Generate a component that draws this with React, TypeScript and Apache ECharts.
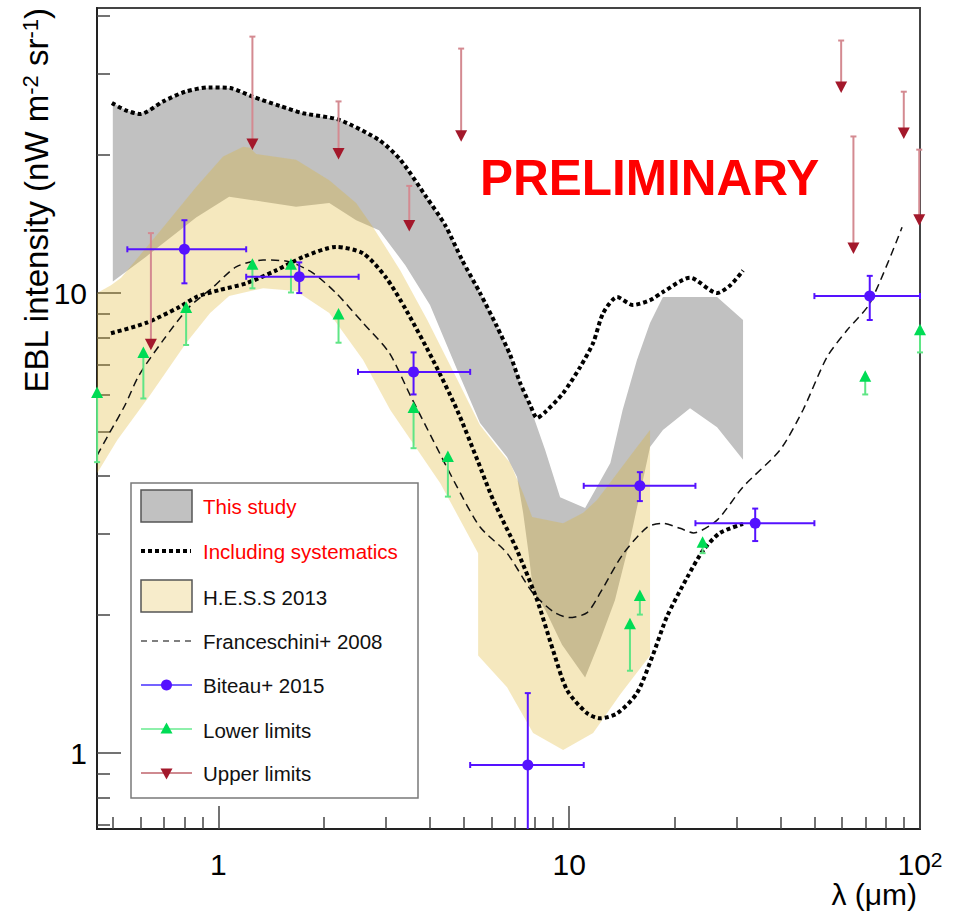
import React, { useEffect, useRef } from 'react';
import * as echarts from 'echarts';

const FONT = '"Liberation Sans", Arial, Helvetica, sans-serif';

// ---- axes ----
const X_MIN = 0.4507;
const X_MAX = 100;
const Y_MIN = 0.6838;
const Y_MAX = 41.66;
const xMajorTicks = [1, 10, 100];
const xMinorTicks = [0.5, 0.6, 0.7, 0.8, 0.9, 2, 3, 4, 5, 6, 7, 8, 9, 20, 30, 40, 50, 60, 70, 80, 90];
const yMajorTicks = [1, 10];
const yMinorTicks = [0.7, 0.8, 0.9, 2, 3, 4, 5, 6, 7, 8, 9, 20, 30, 40];

// ---- This study (band) ----
const thisStudyUpper: number[][] = [
  [0.5, 25.9], [0.542, 25.0], [0.598, 24.5], [0.696, 26.1], [0.804, 27.4], [0.941, 28.0], [1.08, 27.9],
  [1.256, 26.7], [1.5, 25.5], [1.744, 24.6], [2.208, 23.8], [2.872, 21.5], [3.3, 19.5], [3.909, 16.2],
  [4.43, 14.05], [4.95, 11.8], [5.57, 10.0], [6.23, 8.44], [6.79, 7.33], [7.25, 6.37], [7.74, 5.65],
  [8.54, 4.56], [9.42, 3.6], [11.1, 3.41], [13.1, 4.27], [14.2, 5.57], [15.6, 7.15], [17.0, 8.61],
  [18.5, 9.8], [26.4, 9.8], [31.3, 8.74],
];
const thisStudyLower: number[][] = [
  [0.5, 10.6], [0.622, 12.0], [0.864, 14.6], [1.073, 16.2], [1.341, 15.8], [1.665, 15.4], [2.07, 15.7],
  [2.47, 14.4], [2.87, 13.7], [3.41, 11.5], [4.01, 9.42], [4.73, 6.98], [5.57, 5.22], [6.65, 4.4],
  [7.1, 3.98], [7.39, 3.33], [7.64, 2.76], [7.89, 2.26], [8.54, 2.05], [9.54, 1.72], [11.1, 1.46],
  [12.25, 1.76], [13.5, 2.15], [14.9, 2.9], [17.0, 4.63], [18.5, 5.04], [22.1, 5.62], [26.4, 5.11],
  [31.3, 4.34],
];

// ---- Including systematics (dotted envelope) ----
const systUpper: number[][] = [
  [0.497, 25.9], [0.542, 25.0], [0.598, 24.5], [0.696, 26.1], [0.804, 27.4], [0.941, 28.0], [1.08, 27.9],
  [1.256, 26.7], [1.5, 25.5], [1.744, 24.6], [2.208, 23.8], [2.872, 21.5], [3.3, 19.5], [3.909, 16.2],
  [4.43, 14.05], [4.95, 11.8], [5.57, 10.0], [6.23, 8.44], [6.79, 7.33], [7.25, 6.37], [7.74, 5.71],
  [8.1, 5.35], [8.56, 5.52], [9.61, 6.06], [10.74, 6.9], [11.7, 7.79], [12.5, 9.05], [13.7, 9.8],
  [15.2, 9.42], [17.0, 9.65], [18.5, 10.05], [22.1, 10.8], [26.4, 10.0], [28.8, 10.4], [31.3, 11.2],
];
const systLower: number[][] = [
  [0.494, 8.18], [0.622, 8.61], [0.773, 9.32], [0.864, 9.8], [1.005, 10.15], [1.2, 10.5], [1.46, 11.2],
  [1.744, 11.98], [2.165, 12.6], [2.585, 12.2], [3.007, 10.8], [3.43, 9.18], [4.09, 7.15], [4.79, 5.57],
  [5.47, 4.34], [6.07, 3.55], [7.1, 2.76], [8.1, 2.15], [9.0, 1.67], [9.86, 1.37], [11.25, 1.22],
  [12.25, 1.19], [13.7, 1.22], [15.6, 1.35], [17.3, 1.63], [19.0, 1.98], [21.7, 2.41], [24.1, 2.76],
  [26.9, 3.01], [31.3, 3.15],
];

// ---- H.E.S.S 2013 (band) ----
const hessUpper: number[][] = [
  [0.451, 10.0], [0.494, 10.4], [0.528, 10.8], [0.696, 13.9], [0.864, 17.0], [1.031, 19.8], [1.176, 20.8],
  [1.231, 20.7], [1.281, 20.05], [1.665, 19.5], [2.07, 17.6], [2.47, 15.7], [2.76, 13.9], [3.3, 11.2],
  [3.94, 8.74], [4.73, 6.63], [5.57, 5.16], [6.23, 4.63], [6.79, 4.27], [7.39, 3.67], [7.84, 3.26],
  [9.61, 3.16], [10.96, 3.33], [12.0, 3.55], [13.7, 4.06], [15.6, 4.63], [17.0, 5.04],
];
const hessLower: number[][] = [
  [0.451, 4.06], [0.515, 4.79], [0.639, 6.0], [0.809, 7.79], [0.947, 9.05], [1.073, 9.85], [1.341, 10.25],
  [1.665, 10.1], [2.07, 9.05], [2.585, 7.15], [3.09, 5.57], [4.29, 3.86], [5.5, 2.72], [5.5, 1.63],
  [6.65, 1.39], [7.89, 1.105], [9.61, 1.015], [11.7, 1.105], [13.97, 1.34], [17.0, 1.63],
];

// ---- Franceschini+ 2008 ----
const franceschini: number[][] = [
  [0.451, 4.44], [0.491, 4.99], [0.542, 5.71], [0.594, 6.63], [0.696, 7.9], [0.825, 9.32], [0.966, 10.3],
  [1.123, 11.4], [1.341, 11.8], [1.59, 11.7], [1.862, 11.05], [2.165, 10.0], [2.585, 8.61], [3.07, 7.41],
  [3.52, 6.0], [4.09, 4.79], [4.79, 3.79], [5.57, 3.1], [6.65, 2.72], [7.84, 2.24], [9.0, 2.03],
  [10.0, 1.97], [11.25, 2.02], [12.3, 2.24], [14.2, 2.7], [16.7, 3.1], [18.5, 3.16], [20.7, 3.08],
  [22.6, 3.01], [26.4, 3.21], [31.3, 3.79], [39.9, 4.56], [46.4, 5.57], [54.3, 7.26], [62.0, 8.31],
  [72.0, 9.51], [88.9, 13.9],
];

// ---- Biteau+ 2015: [x, y, xLow, xHigh, yLow, yHigh] ----
const biteau: number[][] = [
  [0.8, 12.45, 0.55, 1.2, 10.5, 14.4],
  [1.7, 10.85, 1.2, 2.51, 10.0, 11.66],
  [3.6, 6.74, 2.5, 5.22, 6.02, 7.43],
  [7.62, 0.942, 5.22, 11.0, 0.5, 1.35],
  [15.9, 3.81, 11.0, 22.9, 3.53, 4.08],
  [33.9, 3.16, 22.9, 50.0, 2.89, 3.4],
  [71.9, 9.85, 50.0, 100, 8.74, 10.9],
];

// ---- Lower limits: [x, y, yLow] ----
const lowerLimits: number[][] = [
  [0.451, 6.05, 4.29], [0.611, 7.39, 5.9], [0.809, 9.26, 7.71], [1.25, 11.5, 10.24], [1.61, 11.5, 10.03],
  [2.2, 8.96, 7.8], [3.6, 5.61, 4.6], [4.51, 4.39, 3.61], [14.9, 1.9, 1.51], [15.9, 2.19, 2.0],
  [24.0, 2.86, 2.72], [69.8, 6.56, 6.02], [100, 8.28, 7.43],
];

// ---- Upper limits: [x, y, yHigh] ----
const upperLimits: number[][] = [
  [0.642, 7.78, 13.5], [1.25, 21.2, 36.1], [2.2, 20.2, 26.1], [3.5, 14.1, 17.1], [4.92, 22.1, 34.0],
  [59.6, 28.2, 35.4], [64.6, 12.6, 21.9], [89.9, 22.4, 27.4], [99.5, 14.5, 20.5],
];

const C_BITEAU = '#5512ff';
const C_LL_LINE = '#5fe585';
const C_LL_MARK = '#00dc55';
const C_UL_LINE = '#d48a91';
const C_UL_MARK = '#a3182b';
const C_GRAY = '#c1c1c1';
const C_HESS = 'rgba(222,180,40,0.3)';
const LEGEND_FS = 20.5;

function bandSeries(name: string, upper: number[][], lower: number[][], fill: string, z: number) {
  return {
    type: 'custom',
    name,
    z,
    silent: true,
    coordinateSystem: 'cartesian2d',
    data: [upper[0]],
    encode: { x: 0, y: 1 },
    renderItem: (_params: any, api: any) => {
      const pts = upper.map((p) => api.coord(p)).concat(lower.slice().reverse().map((p) => api.coord(p)));
      return { type: 'polygon', shape: { points: pts }, style: { fill } };
    },
  };
}

function lineSeries(name: string, data: number[][], width: number, dash: number[], color: string, z: number) {
  return {
    type: 'line',
    name,
    data,
    z,
    silent: true,
    symbol: 'none',
    showSymbol: false,
    smooth: 0.25,
    lineStyle: { color, width, type: dash, cap: 'butt' },
  };
}

const seg = (x1: number, y1: number, x2: number, y2: number, stroke: string, w = 2) => ({
  type: 'line',
  shape: { x1, y1, x2, y2 },
  style: { stroke, lineWidth: w },
});

const legendText = (y: number, text: string, fill: string) => ({
  type: 'text', x: 203, y,
  style: { text, fontSize: LEGEND_FS, fontFamily: FONT, fill, align: 'left', verticalAlign: 'middle' },
});

const option: any = {
  animation: false,
  backgroundColor: '#fff',
  grid: {
    left: 97, top: 8, width: 823, height: 821,
    show: true, borderColor: '#444', borderWidth: 2, backgroundColor: 'transparent',
    containLabel: false, outerBoundsMode: 'none',
  },
  xAxis: [
    {
      type: 'log', logBase: 10, min: X_MIN, max: X_MAX, position: 'bottom',
      splitLine: { show: false },
      axisLine: { show: true, onZero: false, lineStyle: { color: '#222', width: 2 } },
      axisTick: { show: true, inside: true, length: 23, customValues: xMajorTicks, lineStyle: { color: '#444', width: 1.5 } },
      axisLabel: {
        show: true, customValues: xMajorTicks, margin: 20,
        formatter: (v: number) => {
          const e = Math.round(Math.log10(v));
          return e >= 2 ? `{b|10}{s|${e}}` : `{b|${Math.round(v)}}`;
        },
        rich: {
          b: { fontSize: 30, fontFamily: FONT, color: '#000', lineHeight: 30, verticalAlign: 'bottom' },
          s: { fontSize: 21, fontFamily: FONT, color: '#000', lineHeight: 16, verticalAlign: 'top' },
        },
      },
    },
    {
      type: 'log', logBase: 10, min: X_MIN, max: X_MAX, position: 'bottom',
      splitLine: { show: false },
      axisLine: { show: false, onZero: false },
      axisTick: { show: true, inside: true, length: 12, customValues: xMinorTicks, lineStyle: { color: '#444', width: 1.5 } },
      axisLabel: { show: false },
    },
  ],
  yAxis: [
    {
      type: 'log', logBase: 10, min: Y_MIN, max: Y_MAX, position: 'left',
      splitLine: { show: false },
      axisLine: { show: true, onZero: false, lineStyle: { color: '#222', width: 2 } },
      axisTick: { show: true, inside: true, length: 24, customValues: yMajorTicks, lineStyle: { color: '#444', width: 1.5 } },
      axisLabel: {
        show: true, customValues: yMajorTicks, margin: 10, fontSize: 30, fontFamily: FONT, color: '#000',
        formatter: (v: number) => String(Math.round(v)),
      },
    },
    {
      type: 'log', logBase: 10, min: Y_MIN, max: Y_MAX, position: 'left',
      splitLine: { show: false },
      axisLine: { show: false, onZero: false },
      axisTick: { show: true, inside: true, length: 13, customValues: yMinorTicks, lineStyle: { color: '#444', width: 1.5 } },
      axisLabel: { show: false },
    },
  ],
  series: [
    bandSeries('This study', thisStudyUpper, thisStudyLower, C_GRAY, 1),
    bandSeries('H.E.S.S 2013', hessUpper, hessLower, C_HESS, 2),
    lineSeries('Including systematics (upper)', systUpper, 4, [4, 3], '#000', 5),
    lineSeries('Including systematics (lower)', systLower, 4, [4, 3], '#000', 5),
    lineSeries('Franceschini+ 2008', franceschini, 1.5, [8, 5], '#111', 4),
    {
      type: 'custom', name: 'Biteau+ 2015', z: 8, silent: true,
      coordinateSystem: 'cartesian2d', data: biteau, encode: { x: 0, y: 1 },
      renderItem: (params: any, api: any) => {
        const cs = params.coordSys;
        const x = api.value(0), y = api.value(1);
        const p = api.coord([x, y]);
        const xl = Math.max(cs.x, api.coord([api.value(2), y])[0]);
        const xh = Math.min(cs.x + cs.width, api.coord([api.value(3), y])[0]);
        const ylRaw = api.coord([x, api.value(4)])[1];
        const yl = Math.min(cs.y + cs.height, ylRaw);
        const yh = Math.max(cs.y, api.coord([x, api.value(5)])[1]);
        const c = 3;
        const ch: any[] = [
          seg(xl, p[1], xh, p[1], C_BITEAU),
          seg(p[0], yh, p[0], yl, C_BITEAU),
          seg(xl, p[1] - c, xl, p[1] + c, C_BITEAU),
          seg(xh, p[1] - c, xh, p[1] + c, C_BITEAU),
          seg(p[0] - c, yh, p[0] + c, yh, C_BITEAU),
        ];
        if (ylRaw <= cs.y + cs.height) ch.push(seg(p[0] - c, yl, p[0] + c, yl, C_BITEAU));
        ch.push({ type: 'circle', shape: { cx: p[0], cy: p[1], r: 5.5 }, style: { fill: C_BITEAU } });
        return { type: 'group', children: ch };
      },
    },
    {
      type: 'custom', name: 'Lower limits', z: 7, silent: true,
      coordinateSystem: 'cartesian2d', data: lowerLimits, encode: { x: 0, y: 1 },
      renderItem: (_params: any, api: any) => {
        const x = api.value(0);
        const p = api.coord([x, api.value(1)]);
        const pl = api.coord([x, api.value(2)]);
        return {
          type: 'group',
          children: [
            seg(p[0], p[1], pl[0], pl[1], C_LL_LINE),
            seg(pl[0] - 3, pl[1], pl[0] + 3, pl[1], C_LL_LINE),
            { type: 'polygon', shape: { points: [[p[0], p[1] - 7], [p[0] - 6, p[1] + 4.5], [p[0] + 6, p[1] + 4.5]] }, style: { fill: C_LL_MARK } },
          ],
        };
      },
    },
    {
      type: 'custom', name: 'Upper limits', z: 7, silent: true,
      coordinateSystem: 'cartesian2d', data: upperLimits, encode: { x: 0, y: 1 },
      renderItem: (_params: any, api: any) => {
        const x = api.value(0);
        const p = api.coord([x, api.value(1)]);
        const ph = api.coord([x, api.value(2)]);
        return {
          type: 'group',
          children: [
            seg(p[0], p[1], ph[0], ph[1], C_UL_LINE),
            seg(ph[0] - 3, ph[1], ph[0] + 3, ph[1], C_UL_LINE),
            { type: 'polygon', shape: { points: [[p[0] - 6, p[1] - 4.5], [p[0] + 6, p[1] - 4.5], [p[0], p[1] + 7]] }, style: { fill: C_UL_MARK } },
          ],
        };
      },
    },
  ],
  graphic: [
    {
      type: 'text', x: 480, y: 177, z: 20, silent: true,
      style: { text: 'PRELIMINARY', fontSize: 49.5, fontWeight: 'bold', fontFamily: FONT, fill: '#ff0000', align: 'left', verticalAlign: 'middle' },
    },
    {
      type: 'text', x: 36, y: 8, rotation: Math.PI / 2, z: 20, silent: true,
      style: {
        text: '{b|EBL intensity (nW m}{s|-2}{b| sr}{s|-1}{b|)}',
        align: 'right', verticalAlign: 'middle',
        rich: {
          b: { fontSize: 33, fontFamily: FONT, fill: '#000', lineHeight: 34, verticalAlign: 'bottom' },
          s: { fontSize: 22, fontFamily: FONT, fill: '#000', lineHeight: 18, verticalAlign: 'top' },
        },
      },
    },
    {
      type: 'text', x: 917, y: 894, z: 20, silent: true,
      style: { text: 'λ (μm)', fontSize: 30, fontFamily: FONT, fill: '#000', align: 'right', verticalAlign: 'middle' },
    },
    // legend
    {
      type: 'group', z: 30, silent: true,
      children: [
        { type: 'rect', shape: { x: 131, y: 483, width: 287, height: 315 }, style: { fill: '#fff', stroke: '#7a7a7a', lineWidth: 1.5 } },
        { type: 'rect', shape: { x: 141, y: 490, width: 51, height: 32 }, style: { fill: C_GRAY, stroke: '#555', lineWidth: 1.5 } },
        legendText(506, 'This study', '#ff0000'),
        { type: 'line', shape: { x1: 141, y1: 551, x2: 191, y2: 551 }, style: { stroke: '#000', lineWidth: 4, lineDash: [4, 3] } },
        legendText(551, 'Including systematics', '#ff0000'),
        { type: 'rect', shape: { x: 141, y: 580, width: 51, height: 32 }, style: { fill: '#f7eccb', stroke: '#555', lineWidth: 1.5 } },
        legendText(597, 'H.E.S.S 2013', '#111'),
        { type: 'line', shape: { x1: 141, y1: 641, x2: 192, y2: 641 }, style: { stroke: '#555', lineWidth: 1.3, lineDash: [6, 5] } },
        legendText(641, 'Franceschini+ 2008', '#111'),
        { type: 'line', shape: { x1: 141, y1: 685, x2: 192, y2: 685 }, style: { stroke: '#7463ff', lineWidth: 2 } },
        { type: 'circle', shape: { cx: 166.5, cy: 685, r: 5.5 }, style: { fill: C_BITEAU } },
        legendText(685, 'Biteau+ 2015', '#111'),
        { type: 'line', shape: { x1: 141, y1: 729, x2: 192, y2: 729 }, style: { stroke: '#8ef0ab', lineWidth: 2 } },
        { type: 'polygon', shape: { points: [[166.5, 722.5], [160.5, 733.5], [172.5, 733.5]] }, style: { fill: C_LL_MARK } },
        legendText(730, 'Lower limits', '#111'),
        { type: 'line', shape: { x1: 141, y1: 773, x2: 192, y2: 773 }, style: { stroke: '#cf8a90', lineWidth: 2 } },
        { type: 'polygon', shape: { points: [[160.5, 768.5], [172.5, 768.5], [166.5, 779.5]] }, style: { fill: C_UL_MARK } },
        legendText(773, 'Upper limits', '#111'),
      ],
    },
  ],
};

export default function App() {
  const ref = useRef<HTMLDivElement>(null);
  useEffect(() => {
    if (!ref.current) return;
    const chart = echarts.init(ref.current, null, { renderer: 'svg' });
    chart.setOption(option);
    return () => chart.dispose();
  }, []);
  return (
    <div
      ref={ref}
      style={{ position: 'fixed', left: 0, top: 0, width: 957, height: 912, background: '#fff' }}
    />
  );
}
